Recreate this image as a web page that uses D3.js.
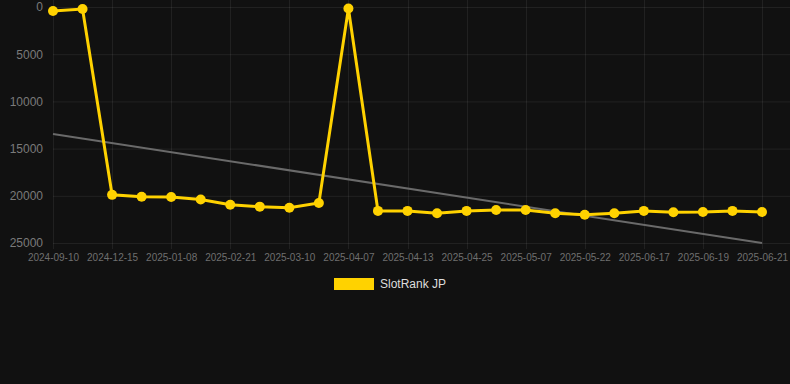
<!DOCTYPE html>
<html>
<head>
<meta charset="utf-8">
<script src="https://cdn.jsdelivr.net/npm/d3@7"></script>
<style>
  html, body { margin: 0; padding: 0; background: #111111; }
  svg { display: block; font-family: "Helvetica Neue", Helvetica, Arial, "Liberation Sans", sans-serif; }
</style>
</head>
<body>
<svg id="chart"></svg>
<script>
var width = 790,
    height = 384;

// tick labels shown under every second point
const tick_labels = ["2024-09-10", "2024-12-15", "2025-01-08", "2025-02-21", "2025-03-10",
    "2025-04-07", "2025-04-13", "2025-04-25", "2025-05-07", "2025-05-22",
    "2025-06-17", "2025-06-19", "2025-06-21"];

// rank per point (lower is better, axis is reversed)
const rank_values = [420, 210, 19900, 20100, 20130, 20400, 20940, 21150, 21260, 20760,
    150, 21600, 21600, 21850, 21600, 21500, 21500, 21850, 22000, 21850,
    21600, 21750, 21720, 21600, 21720];

// trend line, first and last point
const trend_values = [13450, 25000];

const y_ticks = [0, 5000, 10000, 15000, 20000, 25000];
const series_name = "SlotRank JP";

const margin = { top: 7, right: 28, bottom: 141, left: 53 };

var svg = d3.select("#chart")
    .attr("width", width)
    .attr("height", height);

var x = d3.scaleLinear()
    .domain([0, rank_values.length - 1])
    .range([margin.left, width - margin.right]);

var y = d3.scaleLinear()
    .domain([0, 25000])
    .range([margin.top, height - margin.bottom]);

// grid
var grid = svg.append("g").attr("class", "grid");
grid.selectAll("line.h")
    .data(y_ticks)
    .join("line")
    .attr("class", "h")
    .attr("x1", margin.left)
    .attr("x2", width)
    .attr("y1", function (d) { return y(d) + 0.5; })
    .attr("y2", function (d) { return y(d) + 0.5; })
    .attr("stroke", "rgba(255,255,255,0.07)");

grid.selectAll("line.v")
    .data(tick_labels)
    .join("line")
    .attr("class", "v")
    .attr("x1", function (d, i) { return Math.round(x(i * 2)) + 0.5; })
    .attr("x2", function (d, i) { return Math.round(x(i * 2)) + 0.5; })
    .attr("y1", 0)
    .attr("y2", y(25000) + 6)
    .attr("stroke", "rgba(255,255,255,0.07)");

// y axis labels
var yAxis = d3.axisLeft(y)
    .tickValues(y_ticks)
    .tickSize(0)
    .tickPadding(10)
    .tickFormat(d3.format("d"));
svg.append("g")
    .attr("transform", "translate(" + margin.left + ",0)")
    .call(yAxis)
    .call(function (g) {
        g.select(".domain").remove();
        g.selectAll("text")
            .attr("fill", "#7a7a7a")
            .attr("font-size", 12)
            .attr("font-family", "\"Helvetica Neue\", Helvetica, Arial, sans-serif");
    });

// x axis labels
var xAxis = d3.axisBottom(x)
    .tickValues(d3.range(0, rank_values.length, 2))
    .tickSize(0)
    .tickPadding(11)
    .tickFormat(function (d) { return tick_labels[d / 2]; });
svg.append("g")
    .attr("transform", "translate(0," + y(25000) + ")")
    .call(xAxis)
    .call(function (g) {
        g.select(".domain").remove();
        g.selectAll("text")
            .attr("fill", "#6f6f6f")
            .attr("font-size", 10)
            .attr("font-family", "\"Helvetica Neue\", Helvetica, Arial, sans-serif");
    });

// trend line
svg.append("line")
    .attr("x1", x(0))
    .attr("y1", y(trend_values[0]))
    .attr("x2", x(rank_values.length - 1))
    .attr("y2", y(trend_values[1]))
    .attr("stroke", "#6a6a6a")
    .attr("stroke-width", 2);

// rank line
var line = d3.line()
    .x(function (d, i) { return x(i); })
    .y(function (d) { return y(d); });

svg.append("path")
    .datum(rank_values)
    .attr("d", line)
    .attr("fill", "none")
    .attr("stroke", "#FFD200")
    .attr("stroke-width", 3)
    .attr("stroke-linejoin", "miter");

svg.append("g")
    .selectAll("circle")
    .data(rank_values)
    .join("circle")
    .attr("cx", function (d, i) { return x(i); })
    .attr("cy", function (d) { return y(d); })
    .attr("r", 5)
    .attr("fill", "#FFD200");

// legend
var legend = svg.append("g").attr("transform", "translate(334,278)");
legend.append("rect")
    .attr("width", 40)
    .attr("height", 12)
    .attr("fill", "#FFD200");
legend.append("text")
    .attr("x", 46)
    .attr("y", 6)
    .attr("dy", "0.35em")
    .attr("fill", "#dddddd")
    .attr("font-size", 12)
    .text(series_name);
</script>
</body>
</html>
